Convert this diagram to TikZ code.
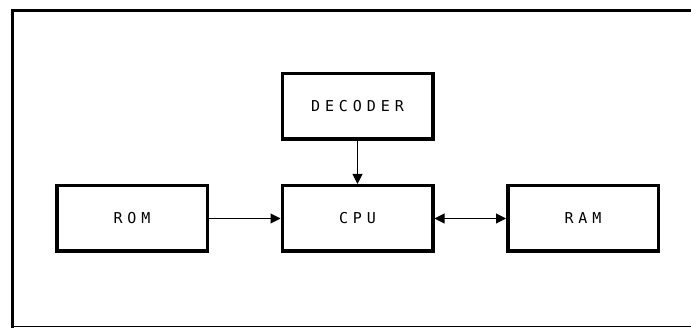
\documentclass[tikz,border=0pt]{standalone}
\usepackage{fontspec}
\usetikzlibrary{arrows.meta}
\newfontfamily\plotfont[LetterSpace=33]{DejaVu Sans Mono}
\begin{document}
\begin{tikzpicture}[x=1pt,y=-1pt,
  block/.style={draw,line width=3.5pt,minimum width=150.5pt,minimum height=65.5pt,inner sep=0pt,font=\plotfont\fontsize{15}{17}\selectfont},
  link/.style={line width=1pt,-{Triangle[length=10pt,width=10pt]}}]
\useasboundingbox (0,0) rectangle (691,328);
% frame
\draw[line width=3pt] (700,10.5) -- (12.5,10.5) -- (12.5,328);
\draw[line width=1pt] (12.5,326.5) -- (700,326.5);
% blocks
\node[block] (dec) at (357.5,106.5) {DECODER};
\node[block] (rom) at (132,218.5) {ROM};
\node[block] (cpu) at (357.5,218.5) {CPU};
\node[block] (ram) at (583,218.5) {RAM};
% buses
\draw[link] (dec) -- (cpu);
\draw[link] (rom) -- (cpu);
\draw[link,{Triangle[length=10pt,width=10pt]}-{Triangle[length=10pt,width=10pt]}] (cpu) -- (ram);
\end{tikzpicture}
\end{document}
